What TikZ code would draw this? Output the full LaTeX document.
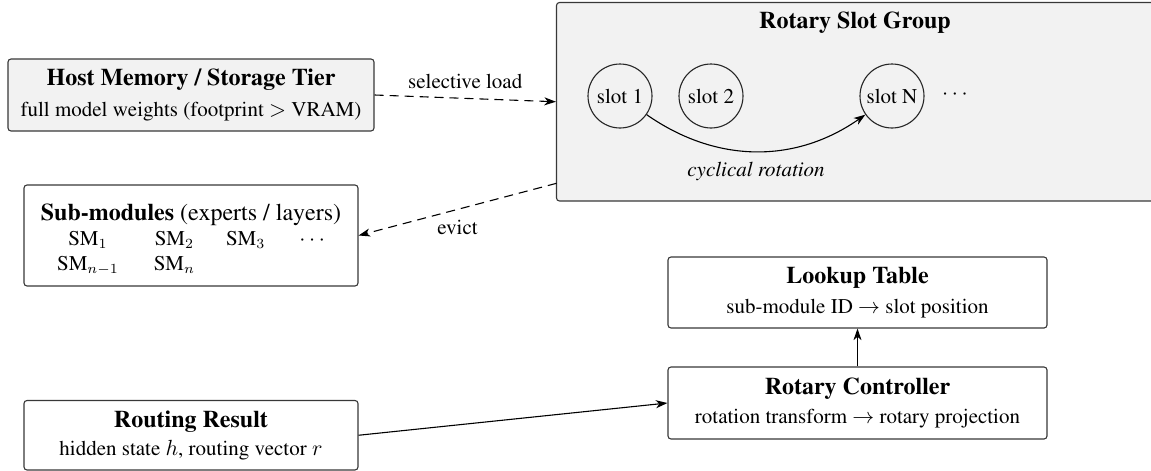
\documentclass[tikz,border=0pt]{standalone}
\usepackage[T1]{fontenc}
\usepackage{times}
\usetikzlibrary{arrows.meta}
\newcommand\descsize{\fontsize{10.5}{12.6}\selectfont}
\newcommand\ttlsize{\fontsize{12}{14.4}\selectfont\bfseries}
\begin{document}
\begin{tikzpicture}[x=0.5pt,y=-0.5pt,
  every node/.style={font=\rmfamily\descsize},
  box/.style={draw=black!78, line width=0.55pt, rounded corners=1.5pt, align=center, inner sep=0pt, fill=white},
  graybox/.style={box, fill=black!5},
  slotc/.style={circle, draw=black!85, line width=0.55pt, minimum size=32pt, inner sep=0pt},
  arr/.style={draw=black, line width=0.55pt, -{Stealth[length=5.8pt,width=4pt,inset=1.7pt]}},
  darr/.style={arr, dash pattern=on 4.5pt off 3pt}
]
\useasboundingbox (0,0) rectangle (1151,471);

% boxes
\node[graybox, minimum width=183pt, minimum height=36pt] (host) at (191,95)
  {{\ttlsize Host Memory / Storage Tier}\\[2.5pt] full model weights (footprint $>$ VRAM)};

\node[box, minimum width=167pt, minimum height=50.5pt] (sub) at (191,235.5)
  {{\ttlsize\rule{0pt}{13.5pt}Sub-modules \mdseries(experts / layers)}\\[0pt]
   \begin{tabular}[t]{@{}c@{\hspace{17.5pt}}c@{\hspace{15.5pt}}c@{\hspace{17pt}}c@{}}
   SM$_1$ & SM$_2$ & SM$_3$ & $\cdots$\\
   SM$_{n-1}$ & SM$_n$ & & 
   \end{tabular}};

\node[graybox, minimum width=300.75pt, minimum height=99.25pt] (group) at (857.25,101.75) {};
\node[font=\rmfamily\ttlsize] (gtitle) at (855,23) {Rotary Slot Group};
\node[slotc] (slot1) at (620,96) {slot 1};
\node[slotc] (slot2) at (711,96) {slot 2};
\node[slotc] (slotN) at (892,96) {slot N};
\node (sdots) at (955,95) {$\cdots$};

\node[box, minimum width=189.5pt, minimum height=35.5pt] (lookup) at (857.5,292.5)
  {{\ttlsize Lookup Table}\\[2pt] sub-module ID $\rightarrow$ slot position};
\node[box, minimum width=189.5pt, minimum height=36pt] (rc) at (857.5,403)
  {{\ttlsize Rotary Controller}\\[2pt] rotation transform $\rightarrow$ rotary projection};
\node[box, minimum width=167pt, minimum height=34.75pt] (routing) at (191,435.25)
  {{\ttlsize Routing Result}\\[1.5pt] hidden state $h$, routing vector $r$};

% connectors
\coordinate (evsrc) at (556.5,183.3);
\draw[darr] (host.east) -- node[above, yshift=1pt] {selective load} (group.west);
\draw[darr] (evsrc) -- node[below, yshift=-2pt] {evict} (sub.east);
\draw[arr] (slot1) to[bend right=35] node[below, yshift=-2pt] {\textit{cyclical rotation}} (slotN);
\draw[arr] (rc) -- (lookup);
\draw[arr] (routing.east) -- (rc.west);
\end{tikzpicture}
\end{document}
